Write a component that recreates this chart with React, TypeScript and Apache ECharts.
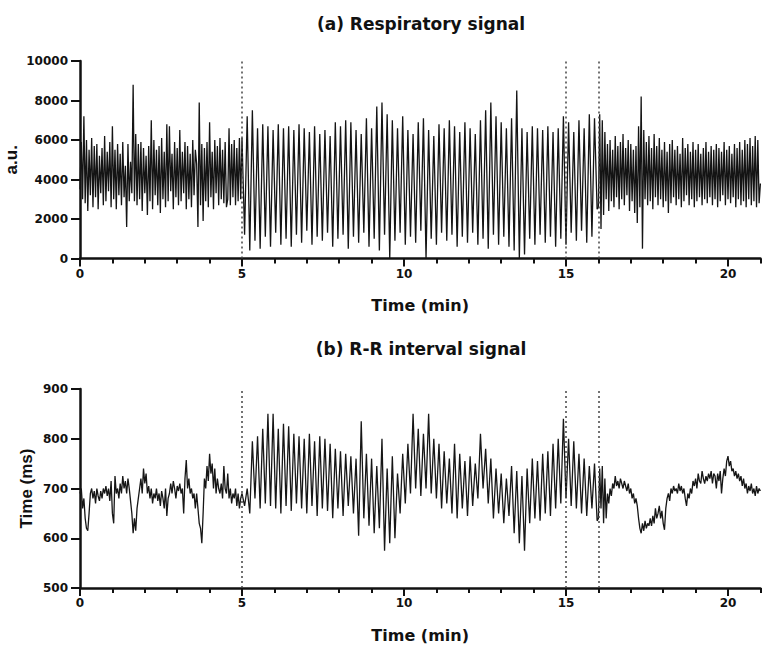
import React, { useEffect, useRef } from "react";
import * as echarts from "echarts";

// Sampling of each phase (minutes): start time and step between samples
const segmentStarts = [0, 5, 16];
const segmentSteps = [0.04, 0.08, 0.04];
// Protocol boundaries (min), drawn as dotted vertical lines
const phaseBoundaries = [5, 15, 16];
const xMajorTicks = [0, 5, 10, 15, 20];

// (a) Respiratory signal, a.u.
const respPhase1 = [
  3500, 5900, 3000, 7200, 2800, 6000, 2400, 5500, 3200, 6100,
  2600, 5700, 3100, 5800, 2500, 5200, 3300, 5600, 2700, 6200,
  2900, 5400, 3400, 5900, 2600, 6700, 3000, 5500, 2500, 5800,
  3200, 5300, 2700, 5900, 3100, 4700, 1600, 5800, 2900, 4900,
  3300, 8800, 2900, 6300, 2700, 5800, 3000, 5900, 2400, 5600,
  3300, 5200, 2200, 5700, 2900, 7000, 2500, 6000, 3200, 5500,
  2700, 5700, 2300, 6100, 3000, 5400, 2600, 6800, 2900, 6700,
  3400, 5300, 2500, 5900, 3100, 5600, 2700, 6500, 2900, 5400,
  3300, 5900, 2500, 5700, 3000, 5300, 2600, 6000, 3200, 5500,
  4800, 1600, 7900, 2700, 5800, 1900, 5600, 2900, 5900, 2600,
  6900, 3100, 5400, 2500, 6000, 3300, 5700, 2700, 6100, 3000,
  5500, 2800, 5900, 2600, 3000, 6600, 2700, 5800, 3100, 6000,
  2700, 5600, 2900, 6100, 3000,
];
const respPhase2 = [
  6100, 1200, 7200, 400, 7500, 900, 6600, 500, 6800, 1100,
  6700, 600, 6500, 1300, 6800, 700, 6600, 1000, 6700, 600,
  6500, 1200, 6800, 800, 6600, 1400, 6400, 700, 6700, 1100,
  6300, 900, 6500, 1300, 6200, 600, 6900, 1000, 6700, 1200,
  7000, 500, 6900, 1100, 6500, 800, 6300, 1300, 7100, 600,
  6600, 1000, 7700, 400, 7900, 1200, 7300, 0, 7000, 900,
  6600, 1300, 7200, 700, 6500, 1100, 6300, 800, 6900, 1400,
  7100, 0, 6500, 1000, 6200, 700, 6800, 1300, 6600, 900,
  7000, 1200, 6700, 600, 6400, 1100, 6900, 800, 6600, 1300,
  6300, 700, 7000, 1000, 7500, 500, 7900, 1200, 7200, 700,
  6900, 1100, 6600, 600, 7100, 400, 8500, 0, 6600, 200,
  6400, 1000, 6700, 700, 6600, 1200, 6500, 800, 6700, 1100,
  6400, 600, 6600, 1000, 7200, 700, 6900, 1300, 6400, 900,
  7000, 1400, 6600, 800, 7300, 1100, 7100, 2500,
];
const respPhase3 = [
  2600, 7300, 1500, 7000, 2200, 6400, 3000, 5800, 2400, 6000,
  2900, 5500, 2600, 6200, 3100, 5700, 2500, 5900, 3000, 6300,
  2700, 5600, 3200, 6000, 2400, 5800, 2900, 5500, 2300, 5700,
  1800, 6700, 2600, 8200, 500, 6500, 3000, 5900, 2700, 6200,
  2900, 5600, 2500, 6300, 3100, 5700, 2700, 6100, 3000, 5500,
  2600, 5900, 2900, 5400, 2300, 5800, 2800, 6000, 3100, 5500,
  2700, 5700, 3000, 5300, 2600, 6100, 2900, 5600, 3200, 5800,
  2700, 5400, 3000, 5900, 2600, 5500, 2900, 5800, 3100, 5300,
  2700, 5600, 3000, 5900, 2800, 5400, 3100, 5700, 2700, 5500,
  3000, 5800, 2600, 5600, 2900, 5400, 3200, 5900, 2700, 5500,
  3000, 5700, 2800, 5300, 3100, 5800, 2600, 5600, 3000, 5900,
  2700, 5500, 2900, 6000, 2600, 5800, 3000, 6100, 2700, 5700,
  2900, 6200, 2600, 6000, 2800, 3800,
];

// (b) R-R interval signal, ms
const rrPhase1 = [
  690, 700, 660, 680, 640, 620, 615, 650, 690, 700,
  680, 695, 670, 700, 685, 675, 695, 680, 700, 690,
  705, 685, 700, 675, 715, 650, 630, 725, 690, 700,
  680, 710, 690, 725, 700, 715, 690, 720, 700, 675,
  650, 610, 640, 615, 660, 680, 700, 720, 690, 740,
  710, 730, 690, 705, 680, 700, 670, 690, 680, 700,
  675, 690, 665, 695, 680, 660, 700, 645, 680, 690,
  710, 690, 715, 700, 680, 705, 695, 710, 690, 700,
  650, 720, 757, 700, 720, 690, 700, 680, 690, 660,
  690, 660, 630, 620, 590, 650, 720, 700, 745, 715,
  770, 730, 750, 700, 740, 690, 720, 700, 690, 710,
  680, 745, 700, 690, 730, 680, 700, 670, 690, 680,
  700, 665, 690, 660, 680,
];
const rrPhase2 = [
  690, 665, 700, 650, 795, 680, 805, 660, 820, 670,
  850, 665, 850, 660, 820, 650, 830, 665, 825, 655,
  810, 670, 805, 660, 800, 650, 810, 665, 795, 645,
  805, 660, 800, 655, 790, 640, 780, 660, 775, 645,
  770, 665, 765, 650, 760, 605, 835, 640, 770, 625,
  760, 610, 745, 620, 800, 575, 740, 590, 765, 600,
  730, 650, 770, 670, 790, 690, 850, 700, 820, 685,
  810, 700, 850, 690, 800, 680, 790, 660, 775, 670,
  760, 650, 790, 640, 770, 660, 755, 645, 765, 665,
  750, 680, 810, 700, 780, 670, 760, 640, 740, 650,
  730, 630, 720, 645, 745, 610, 735, 590, 725, 575,
  740, 630, 760, 640, 755, 635, 770, 650, 775, 645,
  790, 660, 800, 670, 840, 680, 800, 665, 795, 660,
  770, 650, 760, 645, 745, 660, 750, 635,
];
const rrPhase3 = [
  640, 740, 660, 745, 630, 720, 640, 690, 670, 700,
  685, 710, 700, 725, 705, 715, 700, 720, 710, 700,
  715, 705, 695, 710, 690, 700, 680, 690, 670, 680,
  665, 640, 620, 610, 630, 615, 635, 620, 630, 625,
  640, 625, 645, 630, 660, 640, 650, 665, 640, 655,
  630, 617, 660, 680, 690, 675, 700, 690, 705, 695,
  700, 690, 710, 695, 705, 690, 700, 680, 665, 690,
  680, 700, 690, 715, 705, 720, 700, 730, 715, 710,
  735, 720, 710, 725, 715, 730, 720, 735, 710, 730,
  725, 700, 730, 715, 735, 690, 720, 740, 725, 755,
  765, 745, 755, 735, 740, 725, 735, 720, 730, 715,
  725, 705, 720, 700, 710, 690, 705, 695, 710, 690,
  700, 685, 705, 690, 700, 695,
];

function buildSeries(phases: number[][]): [number, number][] {
  const out: [number, number][] = [];
  phases.forEach((vals, p) => {
    vals.forEach((v, i) => {
      out.push([+(segmentStarts[p] + i * segmentSteps[p]).toFixed(3), v]);
    });
  });
  return out;
}

const H_FONT = "DejaVu Sans";
const V_FONT = "Liberation Sans";
const INK = "#111";

function xAxes(gridIndex: number) {
  return [
    {
      type: "value",
      gridIndex,
      position: "bottom",
      min: 0,
      max: 21,
      interval: 1,
      axisLine: { show: true, onZero: false, lineStyle: { color: INK, width: 2.5 } },
      axisTick: { show: true, length: 5, lineStyle: { color: INK, width: 2 } },
      axisLabel: {
        formatter: (v: number) => (v % 5 === 0 && v <= 20 ? String(v) : ""),
        fontFamily: H_FONT,
        fontWeight: "bold",
        fontSize: 12,
        color: INK,
        margin: 9,
      },
      splitLine: { show: false },
      name: "Time (min)",
      nameLocation: "middle",
      nameGap: 39,
      nameMoveOverlap: false,
      nameTextStyle: { fontFamily: H_FONT, fontWeight: "bold", fontSize: 16, color: INK },
    },
    {
      type: "value",
      gridIndex,
      position: "bottom",
      min: 0,
      max: 21,
      axisLine: { show: false, onZero: false },
      axisTick: {
        show: true,
        customValues: xMajorTicks,
        length: 8,
        lineStyle: { color: INK, width: 2 },
      },
      axisLabel: { show: false },
      splitLine: { show: false },
    },
  ];
}

function yAxis(gridIndex: number, min: number, max: number, interval: number, name: string, nameGap: number) {
  return {
    type: "value",
    gridIndex,
    min,
    max,
    interval,
    axisLine: { show: true, onZero: false, lineStyle: { color: INK, width: 2.5 } },
    axisTick: { show: true, length: 9, lineStyle: { color: INK, width: 2 } },
    axisLabel: {
      formatter: (v: number) => String(v),
      fontFamily: H_FONT,
      fontWeight: "bold",
      fontSize: 12,
      color: INK,
      margin: 12,
    },
    splitLine: { show: false },
    name,
    nameLocation: "middle",
    nameRotate: 90,
    nameGap,
    nameMoveOverlap: false,
    nameTextStyle: { fontFamily: V_FONT, fontWeight: "bold", fontSize: 17, color: INK },
  };
}

function markLines() {
  return {
    silent: true,
    symbol: ["none", "none"],
    label: { show: false },
    lineStyle: { type: [2, 3], color: "#444", width: 1.5 },
    data: phaseBoundaries.map((x) => ({ xAxis: x })),
  };
}

export default function App() {
  const ref = useRef<HTMLDivElement>(null);
  useEffect(() => {
    if (!ref.current) return;
    const chart = echarts.init(ref.current, undefined, { renderer: "svg" });
    const resp = buildSeries([respPhase1, respPhase2, respPhase3]);
    const rr = buildSeries([rrPhase1, rrPhase2, rrPhase3]);
    chart.setOption({
      animation: false,
      backgroundColor: "#fff",
      grid: [
        { left: 80, width: 680.4, top: 61, height: 197.5, containLabel: false, outerBoundsMode: "none" },
        { left: 80, width: 680.4, top: 389, height: 199, containLabel: false, outerBoundsMode: "none" },
      ],
      graphic: [
        {
          type: "text",
          x: 421,
          y: 24,
          style: {
            text: "(a) Respiratory signal",
            align: "center",
            verticalAlign: "middle",
            fontFamily: H_FONT,
            fontWeight: "bold",
            fontSize: 17,
            fill: INK,
          },
        },
        {
          type: "text",
          x: 421,
          y: 349,
          style: {
            text: "(b) R-R interval signal",
            align: "center",
            verticalAlign: "middle",
            fontFamily: H_FONT,
            fontWeight: "bold",
            fontSize: 17,
            fill: INK,
          },
        },
      ],
      xAxis: [...xAxes(0), ...xAxes(1)],
      yAxis: [
        yAxis(0, 0, 10000, 2000, "a.u.", 60),
        yAxis(1, 500, 900, 100, "Time (ms)", 45),
      ],
      series: [
        {
          type: "line",
          xAxisIndex: 0,
          yAxisIndex: 0,
          data: resp,
          showSymbol: false,
          symbol: "none",
          lineStyle: { color: "#141414", width: 1.3 },
          markLine: markLines(),
        },
        {
          type: "line",
          xAxisIndex: 2,
          yAxisIndex: 1,
          data: rr,
          showSymbol: false,
          symbol: "none",
          lineStyle: { color: "#161616", width: 1.3 },
          markLine: markLines(),
        },
      ],
    });
    return () => chart.dispose();
  }, []);
  return (
    <div
      ref={ref}
      style={{ position: "absolute", left: 0, top: 0, width: 776, height: 656, background: "#fff" }}
    />
  );
}
